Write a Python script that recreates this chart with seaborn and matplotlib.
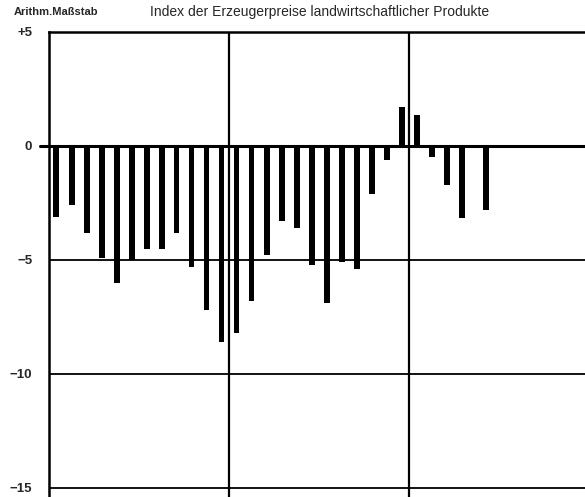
import matplotlib
matplotlib.use("Agg")
import matplotlib.pyplot as plt
import seaborn as sns
import pandas as pd

# Data: monthly change values (Index der Erzeugerpreise)
months = [1, 2, 3, 4, 5, 6, 7, 8, 9, 10, 11, 12,
          13, 14, 15, 16, 17, 18, 19, 20, 21, 22, 23, 24,
          25, 26, 27, 28, 29.6]
values = [-3.1, -2.6, -3.8, -4.9, -6.0, -5.0, -4.5, -4.5, -3.8, -5.3, -7.2, -8.6,
          -8.2, -6.8, -4.8, -3.3, -3.6, -5.2, -6.9, -5.1, -5.4, -2.1, -0.6, 1.7,
          1.35, -0.5, -1.7, -3.15, -2.8]
year_bounds = [12.5, 24.5]
yticks = [5, 0, -5, -10, -15]
ytick_labels = ["+5", "0", "\u22125", "\u221210", "\u221215"]
title = "Index der Erzeugerpreise landwirtschaftlicher Produkte"
scale_label = "Arithm.Maßstab"

sns.set_theme(style="white")
plt.rcParams['font.family'] = ['Liberation Sans', 'DejaVu Sans']

W, H = 585, 497
fig = plt.figure(figsize=(W / 100, H / 100), dpi=100)
ax = fig.add_axes([49 / W, 0.0, 1 - 49 / W, 1 - 32 / H])

df = pd.DataFrame({"month": months, "value": values})
sns.barplot(data=df, x="month", y="value", native_scale=True, color="black",
            width=0.4, ax=ax, saturation=1)
for p in ax.patches:
    p.set_edgecolor("black")
    p.set_linewidth(0)

ax.set_xlim(0.5, 0.5 + (W - 49) / 15)
ax.set_ylim(-15.4, 5)

for y in [-5, -10, -15]:
    ax.axhline(y, color="black", lw=1.3, zorder=0)
ax.axhline(0, color="black", lw=2.2, zorder=3, xmin=-0.017, clip_on=False)
for xb in year_bounds:
    ax.axvline(xb, color="black", lw=1.6, zorder=0)

for s in ["right", "bottom"]:
    ax.spines[s].set_visible(False)
ax.spines["left"].set_linewidth(1.8)
ax.spines["top"].set_linewidth(1.8)
ax.spines["left"].set_color("black")
ax.spines["top"].set_color("black")

ax.set_xticks([])
ax.set_yticks(yticks)
ax.set_yticklabels(ytick_labels, fontweight="bold", fontsize=9.5)
ax.tick_params(axis="y", length=0, pad=12)
ax.set_xlabel("")
ax.set_ylabel("")

fig.text(14 / W, 1 - 12 / H, scale_label, fontsize=8, fontweight="bold",
         ha="left", va="center")
fig.text(150 / W, 1 - 12 / H, title, fontsize=10, ha="left", va="center")

fig.savefig("out.png", dpi=100)
